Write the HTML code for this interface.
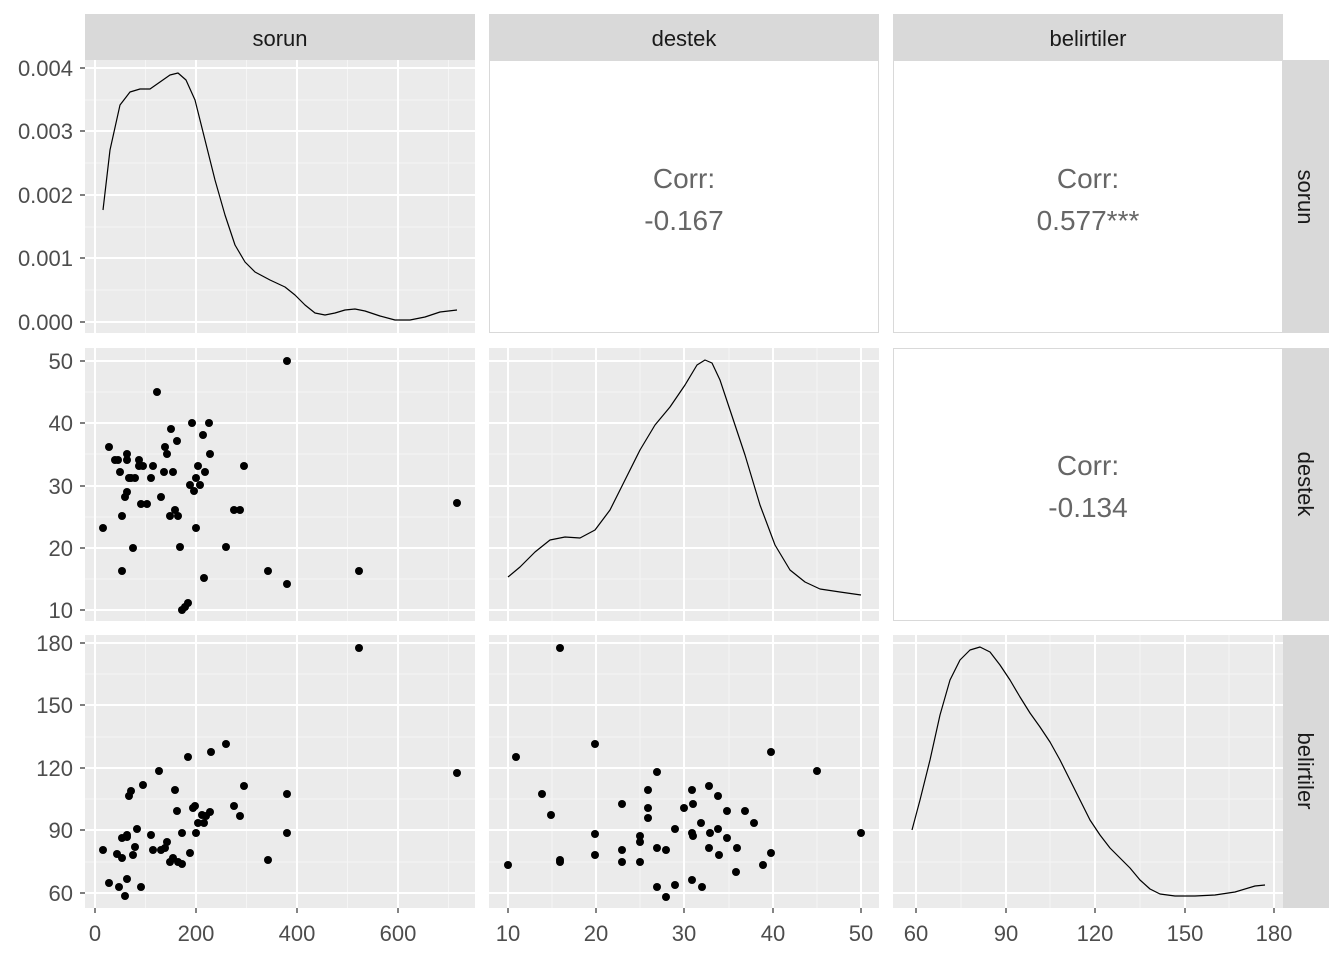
<!DOCTYPE html>
<html><head><meta charset="utf-8"><style>body{margin:0;background:#fff}svg{display:block}text{font-family:"Liberation Sans",sans-serif}</style></head><body>
<svg width="1344" height="960" xmlns="http://www.w3.org/2000/svg">
<rect width="1344" height="960" fill="#fff"/>
<g>
<rect x="85" y="60" width="390" height="273" fill="#ebebeb"/>
<rect x="489.5" y="60.5" width="389" height="272" fill="#fff" stroke="#d9d9d9"/>
<rect x="893.5" y="60.5" width="389" height="272" fill="#fff" stroke="#d9d9d9"/>
<rect x="85" y="348" width="390" height="273" fill="#ebebeb"/>
<rect x="489" y="348" width="390" height="273" fill="#ebebeb"/>
<rect x="893.5" y="348.5" width="389" height="272" fill="#fff" stroke="#d9d9d9"/>
<rect x="85" y="635" width="390" height="273" fill="#ebebeb"/>
<rect x="489" y="635" width="390" height="273" fill="#ebebeb"/>
<rect x="893" y="635" width="390" height="273" fill="#ebebeb"/>
</g>
<g fill="#d9d9d9">
<rect x="85" y="14" width="390" height="46"/><rect x="489" y="14" width="390" height="46"/><rect x="893" y="14" width="390" height="46"/>
<rect x="1283" y="60" width="46" height="273"/><rect x="1283" y="348" width="46" height="273"/><rect x="1283" y="635" width="46" height="273"/>
</g>
<g font-size="22" fill="#1a1a1a" text-anchor="middle">
<text x="280" y="46">sorun</text><text x="684" y="46">destek</text><text x="1088" y="46">belirtiler</text>
<text transform="translate(1298,197) rotate(90)">sorun</text>
<text transform="translate(1298,484) rotate(90)">destek</text>
<text transform="translate(1298,771) rotate(90)">belirtiler</text>
</g>
<g stroke="#f5f5f5" stroke-width="1">
<path d="M145.5 60V333M246.5 60V333M347.5 60V333M448.5 60V333 M85 290H475M85 227H475M85 163H475M85 100H475"/>
<path d="M145.5 348V621M246.5 348V621M347.5 348V621M448.5 348V621 M85 579H475M85 517H475M85 454H475M85 392H475"/>
<path d="M145.5 635V908M246.5 635V908M347.5 635V908M448.5 635V908 M85 862H475M85 799H475M85 737H475M85 674H475"/>
<path d="M552 348V621M640 348V621M729 348V621M817 348V621 M489 579H879M489 517H879M489 454H879M489 392H879"/>
<path d="M552 635V908M640 635V908M729 635V908M817 635V908 M489 862H879M489 799H879M489 737H879M489 674H879"/>
<path d="M961 635V908M1050 635V908M1140 635V908M1229 635V908 M893 862H1283M893 799H1283M893 737H1283M893 674H1283"/>
</g>
<g stroke="#fff" stroke-width="2">
<path d="M95 60V333M196 60V333M297 60V333M398 60V333 M85 322H475M85 258H475M85 195H475M85 131H475M85 68H475"/>
<path d="M95 348V621M196 348V621M297 348V621M398 348V621 M85 610H475M85 548H475M85 486H475M85 423H475M85 361H475"/>
<path d="M95 635V908M196 635V908M297 635V908M398 635V908 M85 893H475M85 830H475M85 768H475M85 705H475M85 643H475"/>
<path d="M508 348V621M596 348V621M684 348V621M773 348V621M861 348V621 M489 610H879M489 548H879M489 486H879M489 423H879M489 361H879"/>
<path d="M508 635V908M596 635V908M684 635V908M773 635V908M861 635V908 M489 893H879M489 830H879M489 768H879M489 705H879M489 643H879"/>
<path d="M916 635V908M1006 635V908M1095 635V908M1185 635V908M1274 635V908 M893 893H1283M893 830H1283M893 768H1283M893 705H1283M893 643H1283"/>
</g>
<g fill="none" stroke="#000" stroke-width="1.2" stroke-linejoin="round">
<polyline points="103,210 110,150 120,105 130,92 140,89 150,89 160,82 170,75 178,73 186,80 195,100 205,140 215,180 225,215 235,245 245,262 255,272 270,280 285,287 295,295 305,305 315,313 325,315 335,313 345,310 355,309 365,311 380,316 395,320 410,320 425,317 440,312 457,310"/>
<polyline points="508,577 520,567 535,552 550,540 565,537 580,538 595,530 610,510 625,480 640,450 655,425 670,407 685,385 697,365 705,360 712,363 720,380 730,410 745,455 760,505 775,545 790,570 805,582 820,589 840,592 861,595"/>
<polyline points="912,830 920,800 930,760 940,715 950,680 960,660 970,650 980,647 990,652 1000,665 1010,680 1020,697 1030,713 1040,727 1050,742 1060,760 1070,780 1080,800 1090,820 1100,835 1110,848 1120,858 1130,868 1140,880 1150,889 1160,894 1175,896 1195,896 1215,895 1235,892 1255,886 1265,885"/>
</g>
<g font-size="28" fill="#666" text-anchor="middle">
<text x="684" y="188">Corr:</text><text x="684" y="230">-0.167</text>
<text x="1088" y="188">Corr:</text><text x="1088" y="230">0.577***</text>
<text x="1088" y="475">Corr:</text><text x="1088" y="517">-0.134</text>
</g>
<g fill="#000">
<circle cx="103" cy="528" r="4"/><circle cx="109" cy="447" r="4"/><circle cx="115" cy="460" r="4"/><circle cx="118" cy="460" r="4"/><circle cx="120" cy="472" r="4"/><circle cx="122" cy="571" r="4"/><circle cx="122" cy="516" r="4"/><circle cx="125" cy="497" r="4"/><circle cx="127" cy="492" r="4"/><circle cx="127" cy="454" r="4"/><circle cx="127" cy="460" r="4"/><circle cx="129" cy="478" r="4"/><circle cx="131" cy="478" r="4"/><circle cx="133" cy="548" r="4"/><circle cx="135" cy="478" r="4"/><circle cx="139" cy="460" r="4"/><circle cx="139" cy="466" r="4"/><circle cx="141" cy="504" r="4"/><circle cx="143" cy="466" r="4"/><circle cx="147" cy="504" r="4"/><circle cx="151" cy="478" r="4"/><circle cx="153" cy="466" r="4"/><circle cx="157" cy="392" r="4"/><circle cx="161" cy="497" r="4"/><circle cx="164" cy="472" r="4"/><circle cx="165" cy="447" r="4"/><circle cx="167" cy="454" r="4"/><circle cx="170" cy="516" r="4"/><circle cx="171" cy="429" r="4"/><circle cx="173" cy="472" r="4"/><circle cx="175" cy="510" r="4"/><circle cx="177" cy="441" r="4"/><circle cx="178" cy="516" r="4"/><circle cx="180" cy="547" r="4"/><circle cx="182" cy="610" r="4"/><circle cx="185" cy="607" r="4"/><circle cx="188" cy="603" r="4"/><circle cx="190" cy="485" r="4"/><circle cx="192" cy="423" r="4"/><circle cx="194" cy="491" r="4"/><circle cx="196" cy="478" r="4"/><circle cx="196" cy="528" r="4"/><circle cx="198" cy="466" r="4"/><circle cx="200" cy="485" r="4"/><circle cx="203" cy="435" r="4"/><circle cx="204" cy="578" r="4"/><circle cx="205" cy="472" r="4"/><circle cx="209" cy="423" r="4"/><circle cx="210" cy="454" r="4"/><circle cx="226" cy="547" r="4"/><circle cx="234" cy="510" r="4"/><circle cx="240" cy="510" r="4"/><circle cx="244" cy="466" r="4"/><circle cx="268" cy="571" r="4"/><circle cx="287" cy="584" r="4"/><circle cx="287" cy="361" r="4"/><circle cx="359" cy="571" r="4"/><circle cx="457" cy="503" r="4"/>
<circle cx="103" cy="850" r="4"/><circle cx="109" cy="883" r="4"/><circle cx="117" cy="854" r="4"/><circle cx="119" cy="887" r="4"/><circle cx="122" cy="858" r="4"/><circle cx="122" cy="838" r="4"/><circle cx="125" cy="896" r="4"/><circle cx="127" cy="879" r="4"/><circle cx="127" cy="837" r="4"/><circle cx="127" cy="835" r="4"/><circle cx="129" cy="796" r="4"/><circle cx="131" cy="791" r="4"/><circle cx="133" cy="855" r="4"/><circle cx="135" cy="847" r="4"/><circle cx="137" cy="829" r="4"/><circle cx="141" cy="887" r="4"/><circle cx="143" cy="785" r="4"/><circle cx="151" cy="835" r="4"/><circle cx="153" cy="850" r="4"/><circle cx="159" cy="771" r="4"/><circle cx="161" cy="850" r="4"/><circle cx="165" cy="848" r="4"/><circle cx="167" cy="842" r="4"/><circle cx="170" cy="862" r="4"/><circle cx="173" cy="858" r="4"/><circle cx="175" cy="790" r="4"/><circle cx="177" cy="811" r="4"/><circle cx="178" cy="862" r="4"/><circle cx="182" cy="864" r="4"/><circle cx="182" cy="833" r="4"/><circle cx="188" cy="757" r="4"/><circle cx="190" cy="853" r="4"/><circle cx="193" cy="808" r="4"/><circle cx="195" cy="806" r="4"/><circle cx="196" cy="833" r="4"/><circle cx="198" cy="823" r="4"/><circle cx="202" cy="815" r="4"/><circle cx="204" cy="823" r="4"/><circle cx="206" cy="816" r="4"/><circle cx="210" cy="812" r="4"/><circle cx="211" cy="752" r="4"/><circle cx="226" cy="744" r="4"/><circle cx="234" cy="806" r="4"/><circle cx="240" cy="816" r="4"/><circle cx="244" cy="786" r="4"/><circle cx="268" cy="860" r="4"/><circle cx="287" cy="833" r="4"/><circle cx="287" cy="794" r="4"/><circle cx="359" cy="648" r="4"/><circle cx="457" cy="773" r="4"/>
<circle cx="508" cy="865" r="4"/><circle cx="516" cy="757" r="4"/><circle cx="542" cy="794" r="4"/><circle cx="551" cy="815" r="4"/><circle cx="560" cy="648" r="4"/><circle cx="560" cy="862" r="4"/><circle cx="560" cy="860" r="4"/><circle cx="595" cy="744" r="4"/><circle cx="595" cy="834" r="4"/><circle cx="595" cy="855" r="4"/><circle cx="622" cy="804" r="4"/><circle cx="622" cy="850" r="4"/><circle cx="622" cy="862" r="4"/><circle cx="640" cy="836" r="4"/><circle cx="640" cy="842" r="4"/><circle cx="640" cy="862" r="4"/><circle cx="648" cy="790" r="4"/><circle cx="648" cy="808" r="4"/><circle cx="648" cy="818" r="4"/><circle cx="657" cy="772" r="4"/><circle cx="657" cy="848" r="4"/><circle cx="657" cy="887" r="4"/><circle cx="666" cy="850" r="4"/><circle cx="666" cy="897" r="4"/><circle cx="675" cy="829" r="4"/><circle cx="675" cy="885" r="4"/><circle cx="684" cy="808" r="4"/><circle cx="692" cy="790" r="4"/><circle cx="692" cy="833" r="4"/><circle cx="692" cy="880" r="4"/><circle cx="693" cy="836" r="4"/><circle cx="693" cy="804" r="4"/><circle cx="701" cy="823" r="4"/><circle cx="702" cy="887" r="4"/><circle cx="709" cy="786" r="4"/><circle cx="709" cy="848" r="4"/><circle cx="710" cy="833" r="4"/><circle cx="718" cy="829" r="4"/><circle cx="718" cy="796" r="4"/><circle cx="719" cy="855" r="4"/><circle cx="727" cy="838" r="4"/><circle cx="727" cy="811" r="4"/><circle cx="736" cy="872" r="4"/><circle cx="737" cy="848" r="4"/><circle cx="745" cy="811" r="4"/><circle cx="754" cy="823" r="4"/><circle cx="763" cy="865" r="4"/><circle cx="771" cy="752" r="4"/><circle cx="771" cy="853" r="4"/><circle cx="817" cy="771" r="4"/><circle cx="861" cy="833" r="4"/>
</g>
<g stroke="#333" stroke-width="1.2">
<path d="M80 68H85M80 131H85M80 195H85M80 258H85M80 322H85"/>
<path d="M80 361H85M80 423H85M80 486H85M80 548H85M80 610H85"/>
<path d="M80 643H85M80 705H85M80 768H85M80 830H85M80 893H85"/>
<path d="M95 908V913M196 908V913M297 908V913M398 908V913"/>
<path d="M508 908V913M596 908V913M684 908V913M773 908V913M861 908V913"/>
<path d="M916 908V913M1006 908V913M1095 908V913M1185 908V913M1274 908V913"/>
</g>
<g font-size="22" fill="#4d4d4d" text-anchor="end">
<text x="73" y="76">0.004</text><text x="73" y="139">0.003</text><text x="73" y="203">0.002</text><text x="73" y="266">0.001</text><text x="73" y="330">0.000</text>
<text x="73" y="369">50</text><text x="73" y="431">40</text><text x="73" y="494">30</text><text x="73" y="556">20</text><text x="73" y="618">10</text>
<text x="73" y="651">180</text><text x="73" y="713">150</text><text x="73" y="776">120</text><text x="73" y="838">90</text><text x="73" y="901">60</text>
</g>
<g font-size="22" fill="#4d4d4d" text-anchor="middle">
<text x="95" y="941">0</text><text x="196" y="941">200</text><text x="297" y="941">400</text><text x="398" y="941">600</text>
<text x="508" y="941">10</text><text x="596" y="941">20</text><text x="684" y="941">30</text><text x="773" y="941">40</text><text x="861" y="941">50</text>
<text x="916" y="941">60</text><text x="1006" y="941">90</text><text x="1095" y="941">120</text><text x="1185" y="941">150</text><text x="1274" y="941">180</text>
</g>
</svg>
</body></html>
